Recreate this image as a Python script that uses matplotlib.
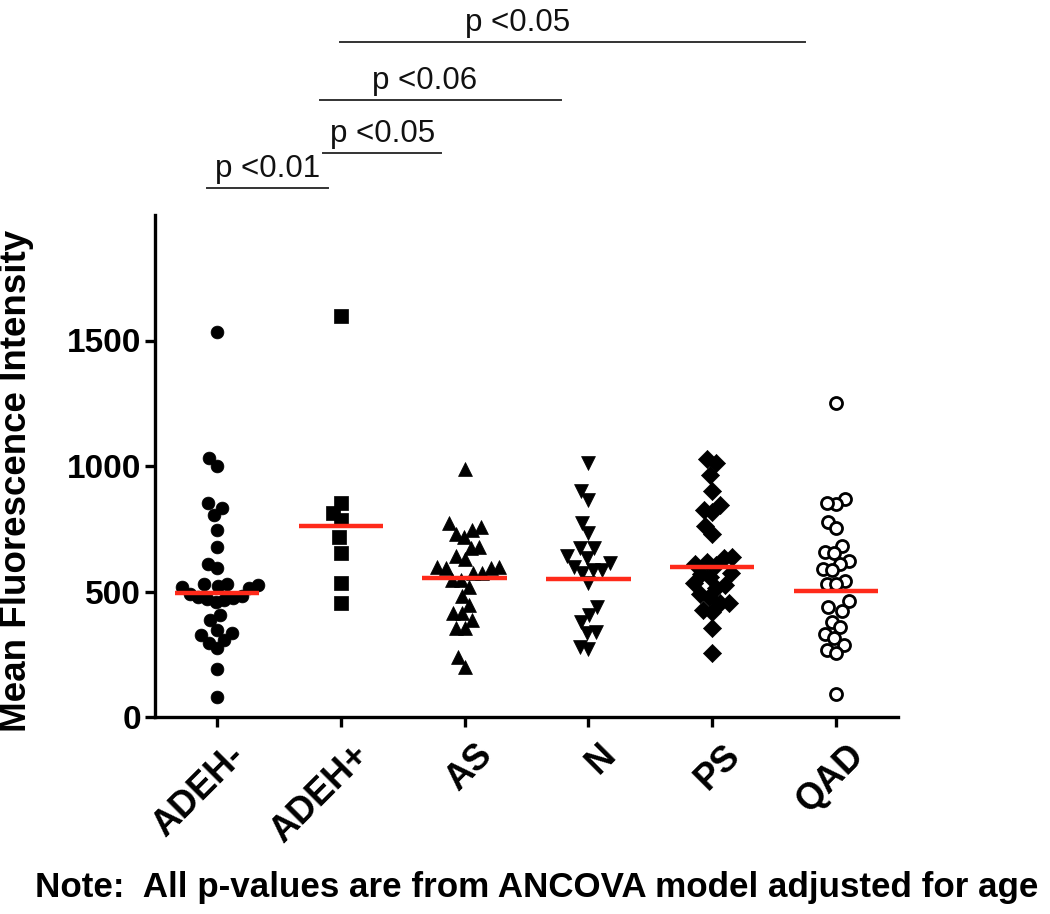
import numpy as np
import matplotlib
matplotlib.use('Agg')
import matplotlib.pyplot as plt
from matplotlib.transforms import ScaledTranslation

plt.rcParams['font.family'] = ['Liberation Sans', 'DejaVu Sans']

# ---------------- data ----------------
groups = ['ADEH-', 'ADEH+', 'AS', 'N', 'PS', 'QAD']

adeh_minus = [1533, 1031, 1001, 854, 831, 805, 745, 678, 609, 592,
              530, 525, 518, 515, 522, 528,
              490, 482, 475, 468, 460, 470, 478,
              406, 386, 347, 333, 327, 307, 294, 274, 190, 81]
adeh_plus = [1598, 851, 811, 785, 718, 655, 535, 455]
as_vals = [987, 772, 745, 756, 729, 718, 678, 674, 641, 628, 599, 599, 592, 592,
           575, 575, 546, 546, 519, 482, 446, 413, 413, 386, 353, 353, 240, 200]
n_vals = [1011, 902, 865, 772, 732, 672, 672, 641, 632, 612, 599, 586, 586, 575,
          533, 439, 406, 380, 333, 340, 280, 270]
ps_vals = [1027, 1013, 964, 902, 843, 825, 818, 761, 728, 636, 632, 619, 606, 610,
           572, 570, 557, 533, 526, 513, 490, 479, 453, 453, 420, 426, 353, 256]
qad_vals = [1252, 867, 849, 854, 778, 754, 681, 659, 655, 622, 610, 588, 586, 542,
            530, 530, 463, 437, 422, 380, 360, 329, 316, 287, 267, 254, 90]

center_lines = [493, 761, 552, 549, 599, 503]

yticks = [0, 500, 1000, 1500]

sig_labels = ['p <0.01', 'p <0.05', 'p <0.06', 'p <0.05']

# ---------------- styles ----------------
series = [adeh_minus, adeh_plus, as_vals, n_vals, ps_vals, qad_vals]
markers = ['o', 's', '^', 'v', 'D', 'o']
faces = ['black', 'black', 'black', 'black', 'black', 'white']
sizes = [85, 90, 100, 100, 85, 75]

W, H, DPI = 1050, 914, 100
fig = plt.figure(figsize=(W / DPI, H / DPI), dpi=DPI)
ax = fig.add_axes([155 / W, 1 - 717 / H, (898 - 155) / W, (717 - 215) / H])
ax.set_xlim(-0.5, 5.5)
ax.set_ylim(0, 2000)

# pixel scales for swarm layout
px_per_x = (898 - 155) / 6.0
px_per_y = (717 - 215) / 2000.0


def swarm(vals, dxp, dyp):
    """Simple beeswarm with elliptical spacing; returns x offsets (data units)."""
    ys = np.asarray(vals, dtype=float) * px_per_y
    order = np.argsort(ys)
    placed = []
    offs = np.zeros(len(ys))
    for i in order:
        y = ys[i]
        cands = [0.0]
        for (xp, yp) in placed:
            r = abs(y - yp) / dyp
            if r < 1:
                dx = dxp * np.sqrt(1 - r ** 2)
                cands += [xp + dx, xp - dx]
        cands = sorted(cands, key=lambda c: (abs(c), c))
        for c in cands:
            ok = all(((c - xp) / dxp) ** 2 + ((y - yp) / dyp) ** 2 >= 1 - 1e-6
                     for (xp, yp) in placed)
            if ok:
                offs[i] = c
                placed.append((c, y))
                break
    return offs / px_per_x


for gi, vals in enumerate(series):
    offs = swarm(vals, 8.8, 16.0)
    ax.scatter(gi + offs, vals, marker=markers[gi], s=sizes[gi],
               facecolors=faces[gi], edgecolors='black',
               linewidths=2.0 if faces[gi] == 'white' else 0.5, zorder=3,
               clip_on=False)
    ax.plot([gi - 0.34, gi + 0.34], [center_lines[gi]] * 2,
            color='#ff2a1a', lw=3.2, zorder=4, solid_capstyle='butt')

# axes styling
for side in ['top', 'right']:
    ax.spines[side].set_visible(False)
for side in ['left', 'bottom']:
    ax.spines[side].set_linewidth(2.4)
ax.set_xticks(range(len(groups)))
ax.set_xticklabels(groups, rotation=45, ha='right', va='top',
                   rotation_mode='anchor', fontsize=26, fontweight='bold')
ax.set_yticks(yticks)
ax.set_yticklabels([str(t) for t in yticks], fontsize=24, fontweight='bold')
ax.tick_params(axis='y', direction='out', length=7, width=2.4, pad=3)
ax.tick_params(axis='x', direction='out', length=7, width=2.4, pad=0)
shift = ScaledTranslation(10 / DPI, -11 / DPI, fig.dpi_scale_trans)
for lab in ax.get_xticklabels():
    lab.set_transform(lab.get_transform() + shift)

fig.text(17 / W, 1 - 481 / H, 'Mean Fluorescence Intensity', rotation=90,
         ha='center', va='center', fontsize=26.5, fontweight='bold')

# significance bars (x in group units, y in axes fraction)
xt = ax.get_xaxis_transform()
bars = [(-0.08, 0.90, 1.054, 0.41),
        (0.86, 1.81, 1.124, 1.34),
        (0.83, 2.78, 1.229, 1.68),
        (0.99, 4.75, 1.345, 2.43)]
for (x0, x1, yf, xtxt), lab in zip(bars, sig_labels):
    ax.plot([x0, x1], [yf, yf], transform=xt, clip_on=False,
            color='#333333', lw=1.4)
    ax.text(xtxt, yf + 0.008, lab, transform=xt, ha='center', va='bottom',
            fontsize=22.5, color='#111111')

fig.text(537 / W, 1 - 887 / H,
         'Note:  All p-values are from ANCOVA model adjusted for age',
         ha='center', va='center', fontsize=25.2, fontweight='bold')

fig.savefig('out.png', dpi=DPI)
